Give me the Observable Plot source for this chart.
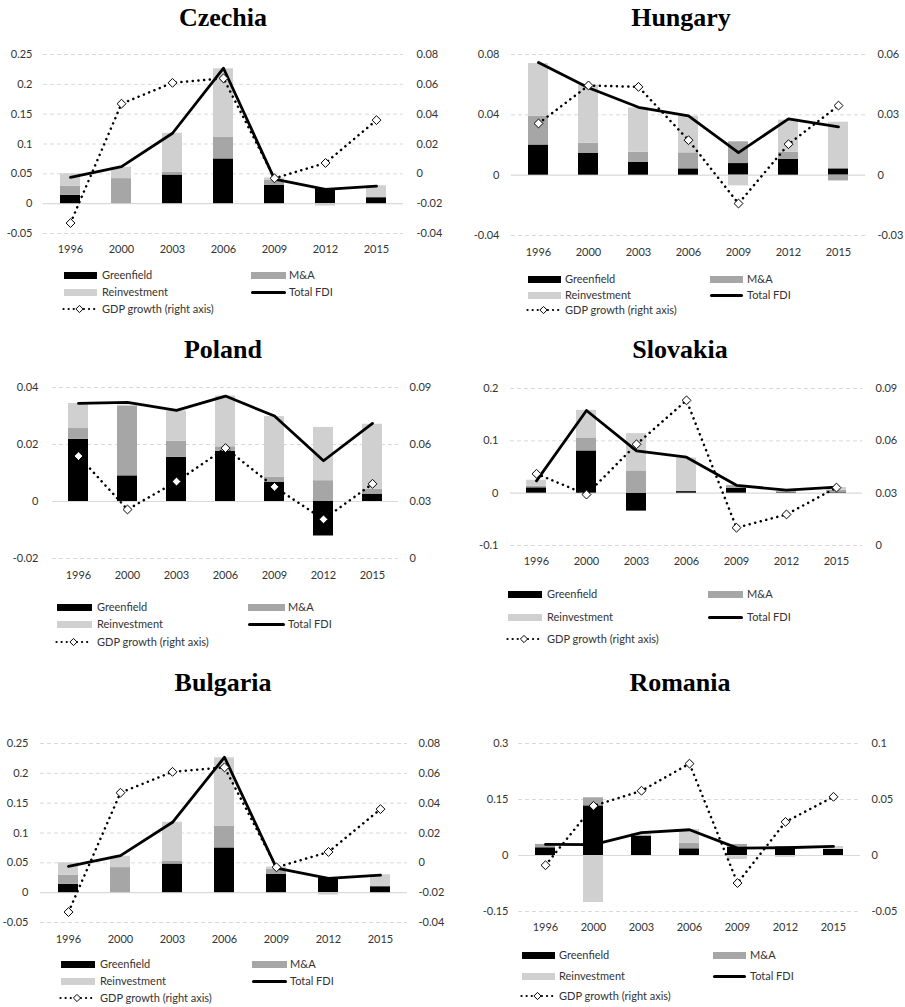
<!DOCTYPE html>
<html>
<head>
<meta charset="utf-8">
<script src="https://cdn.jsdelivr.net/npm/d3@7"></script>
<script src="https://cdn.jsdelivr.net/npm/@observablehq/plot@0.6"></script>
<style>
  html, body { margin: 0; padding: 0; background: #fff; }
  #root { position: relative; width: 905px; height: 1007px; overflow: hidden; background: #fff; font-family: Lato, "Noto Sans", sans-serif; }
  .abs { position: absolute; }
  .title { position: absolute; font-family: "Liberation Serif", "DejaVu Serif", serif; font-weight: bold; font-size: 26px; line-height: 26px; color: #000; white-space: nowrap; transform: translateX(-50%); }
  .ltxt { position: absolute; font-size: 11px; line-height: 14px; color: #333; white-space: nowrap; }
</style>
</head>
<body>
<div id="root"></div>
<script>
// ---------- data ----------
const years = ["1996", "2000", "2003", "2006", "2009", "2012", "2015"];
const seriesNames = ["Greenfield", "M&A", "Reinvestment"];
const seriesColors = ["#000000", "#a6a6a6", "#d0d0d0"];

// Czechia
const czGreenfield   = [0.014, 0.000, 0.048, 0.075, 0.031, 0.025, 0.010];
const czMA           = [0.015, 0.042, 0.005, 0.036, 0.008, 0.000, 0.000];
const czReinvestment = [0.021, 0.019, 0.065, 0.115, 0.004, -0.004, 0.020];
const czTotalFDI     = [0.044, 0.062, 0.118, 0.227, 0.041, 0.024, 0.0295];
const czGDP          = [-0.033, 0.047, 0.061, 0.064, -0.003, 0.0073, 0.036];

// Hungary
const huGreenfield   = [0.020, 0.0146, 0.0084, 0.0042, 0.0077, 0.0106, 0.0042];
const huMA           = [0.019, 0.0066, 0.0068, 0.0106, 0.0144, 0.0046, -0.0038];
const huReinvestment = [0.035, 0.0385, 0.0294, 0.0243, -0.0071, 0.0213, 0.0309];
const huTotalFDI     = [0.0747, 0.058, 0.045, 0.0393, 0.015, 0.0373, 0.032];
const huGDP          = [0.0257, 0.0446, 0.0439, 0.0174, -0.0141, 0.0154, 0.0346];

// Poland
const plGreenfield   = [0.0218, 0.009, 0.0155, 0.0176, 0.0068, -0.0121, 0.0026];
const plMA           = [0.0038, 0.0245, 0.0056, 0.0016, 0.0017, 0.0073, 0.0017];
const plReinvestment = [0.0088, 0.0003, 0.0107, 0.0178, 0.0213, 0.0187, 0.0228];
const plTotalFDI     = [0.0344, 0.0348, 0.032, 0.037, 0.030, 0.0143, 0.0274];
const plGDP          = [0.0539, 0.0258, 0.0405, 0.0581, 0.0377, 0.0206, 0.0393];

// Slovakia
const skGreenfield   = [0.0102, 0.0807, -0.0343, 0.003, 0.0095, 0.001, 0.001];
const skMA           = [0.003, 0.0248, 0.0426, 0.001, 0.005, 0.002, 0.0047];
const skReinvestment = [0.0115, 0.0528, 0.0712, 0.063, 0.0005, 0.001, 0.005];
const skTotalFDI     = [0.0235, 0.158, 0.0807, 0.0687, 0.015, 0.0057, 0.0114];
const skGDP          = [0.0411, 0.0292, 0.058, 0.0832, 0.0102, 0.0178, 0.0332];

// Bulgaria
const bgGreenfield   = [0.014, 0.000, 0.048, 0.075, 0.031, 0.025, 0.010];
const bgMA           = [0.015, 0.042, 0.005, 0.036, 0.008, 0.000, 0.000];
const bgReinvestment = [0.021, 0.019, 0.065, 0.115, 0.004, -0.004, 0.020];
const bgTotalFDI     = [0.044, 0.062, 0.118, 0.227, 0.041, 0.024, 0.0295];
const bgGDP          = [-0.033, 0.047, 0.061, 0.064, -0.003, 0.0073, 0.036];

// Romania
const roGreenfield   = [0.0207, 0.133, 0.0512, 0.018, 0.0216, 0.0225, 0.0162];
const roMA           = [0.009, 0.0216, 0.003, 0.0144, 0.008, 0.000, 0.000];
const roReinvestment = [0.000, -0.1258, 0.005, 0.037, -0.0108, -0.005, 0.008];
const roTotalFDI     = [0.0296, 0.029, 0.061, 0.069, 0.0198, 0.0207, 0.0243];
const roGDP          = [-0.0087, 0.0443, 0.0578, 0.082, -0.0246, 0.030, 0.0524];

// tick labels
const czLeftTicks  = [-0.05, 0, 0.05, 0.1, 0.15, 0.2, 0.25];
const czRightTicks = [-0.04, -0.02, 0, 0.02, 0.04, 0.06, 0.08];
const huLeftTicks  = [-0.04, 0, 0.04, 0.08];
const huRightTicks = [-0.03, 0, 0.03, 0.06];
const plLeftTicks  = [-0.02, 0, 0.02, 0.04];
const plRightTicks = [0, 0.03, 0.06, 0.09];
const skLeftTicks  = [-0.1, 0, 0.1, 0.2];
const skRightTicks = [0, 0.03, 0.06, 0.09];
const bgLeftTicks  = [-0.05, 0, 0.05, 0.1, 0.15, 0.2, 0.25];
const bgRightTicks = [-0.04, -0.02, 0, 0.02, 0.04, 0.06, 0.08];
const roLeftTicks  = [-0.15, 0, 0.15, 0.3];
const roRightTicks = [-0.05, 0, 0.05, 0.1];

// ---------- layout ----------
const panels = [
  {name: "Czechia", green: czGreenfield, mna: czMA, reinv: czReinvestment, total: czTotalFDI, gdp: czGDP,
   lTicks: czLeftTicks, rTicks: czRightTicks,
   ox: 0, W: 452, svgTop: 40, plotL: 43, plotR: 403, plotT: 54, plotB: 233, padL: 11, padR: 13, padX: 12,
   titleX: 223, titleBase: 27,
   leg: {rows: [275, 292, 309], sx0: 64, sx1: 97, tx: 102, mx0: 251, mx1: 286, mtx: 289}},
  {name: "Hungary", green: huGreenfield, mna: huMA, reinv: huReinvestment, total: huTotalFDI, gdp: huGDP,
   lTicks: huLeftTicks, rTicks: huRightTicks,
   ox: 452, W: 453, svgTop: 40, plotL: 511, plotR: 865, plotT: 54, plotB: 235, padL: 12, padR: 12, padX: 12.5,
   titleX: 681, titleBase: 27,
   leg: {rows: [279, 295, 310], sx0: 528, sx1: 561, tx: 565, mx0: 710, mx1: 743, mtx: 747}},
  {name: "Poland", green: plGreenfield, mna: plMA, reinv: plReinvestment, total: plTotalFDI, gdp: plGDP,
   lTicks: plLeftTicks, rTicks: plRightTicks,
   ox: 0, W: 452, svgTop: 370, plotL: 52, plotR: 398, plotT: 387, plotB: 558, padL: 14, padR: 11, padX: 12.5,
   titleX: 223, titleBase: 359,
   leg: {rows: [607, 624, 642], sx0: 57, sx1: 92, tx: 97, mx0: 248, mx1: 285, mtx: 288}},
  {name: "Slovakia", green: skGreenfield, mna: skMA, reinv: skReinvestment, total: skTotalFDI, gdp: skGDP,
   lTicks: skLeftTicks, rTicks: skRightTicks,
   ox: 452, W: 453, svgTop: 370, plotL: 510, plotR: 862, plotT: 388, plotB: 545, padL: 12, padR: 13, padX: 11.5,
   titleX: 680, titleBase: 359,
   leg: {rows: [594, 617, 639], sx0: 508, sx1: 542, tx: 547, mx0: 708, mx1: 743, mtx: 747}},
  {name: "Bulgaria", green: bgGreenfield, mna: bgMA, reinv: bgReinvestment, total: bgTotalFDI, gdp: bgGDP,
   lTicks: bgLeftTicks, rTicks: bgRightTicks,
   ox: 0, W: 452, svgTop: 725, plotL: 40, plotR: 407, plotT: 743, plotB: 922, padL: 12, padR: 11, padX: 12.5,
   titleX: 223, titleBase: 692,
   leg: {rows: [964, 981, 998], sx0: 61, sx1: 95, tx: 100, mx0: 252, mx1: 287, mtx: 290}},
  {name: "Romania", green: roGreenfield, mna: roMA, reinv: roReinvestment, total: roTotalFDI, gdp: roGDP,
   lTicks: roLeftTicks, rTicks: roRightTicks,
   ox: 452, W: 453, svgTop: 725, plotL: 518, plotR: 860, plotT: 743, plotB: 911, padL: 10, padR: 11, padX: 11.5,
   titleX: 680, titleBase: 692,
   leg: {rows: [955, 976, 996], sx0: 522, sx1: 555, tx: 559, mx0: 713, mx1: 746, mtx: 750}}
];

const root = document.getElementById("root");
const fmt = d => { const v = +(+d).toFixed(4); return (v === 0) ? "0" : String(v); };
const diamondSym = {
  draw(context, size) {
    const r = Math.sqrt(size) * 0.62625;
    context.moveTo(0, -r); context.lineTo(r, 0); context.lineTo(0, r); context.lineTo(-r, 0); context.closePath();
  }
};

function el(tag, cls, style, text) {
  const e = document.createElement(tag);
  if (cls) e.className = cls;
  Object.assign(e.style, style);
  if (text != null) e.textContent = text;
  root.appendChild(e);
  return e;
}

function drawPanel(p) {
  const ml = p.plotL - p.ox, mr = p.ox + p.W - p.plotR;
  const mt = p.plotT - p.svgTop, mb = 30;
  const height = mt + (p.plotB - p.plotT) + mb;
  const step = (p.plotR - p.plotL) / years.length;
  const pad = 1 - 20 / step;
  const l0 = p.lTicks[0], l1 = p.lTicks[p.lTicks.length - 1];
  const r0 = p.rTicks[0], r1 = p.rTicks[p.rTicks.length - 1];
  const toL = v => l0 + (v - r0) * (l1 - l0) / (r1 - r0);
  const toR = v => r0 + (v - l0) * (r1 - r0) / (l1 - l0);

  const table = years.flatMap((yr, i) => [
    {year: yr, series: seriesNames[0], value: p.green[i]},
    {year: yr, series: seriesNames[1], value: p.mna[i]},
    {year: yr, series: seriesNames[2], value: p.reinv[i]}
  ]);
  const total = years.map((yr, i) => ({year: yr, value: p.total[i]}));
  const gdp = years.map((yr, i) => ({year: yr, value: p.gdp[i]}));

  const chart = Plot.plot({
    width: p.W, height,
    marginLeft: ml, marginRight: mr, marginTop: mt, marginBottom: mb,
    style: {fontFamily: "Lato, 'Noto Sans', sans-serif", fontSize: "11px", color: "#333", background: "transparent", overflow: "visible"},
    x: {domain: years, paddingInner: pad, paddingOuter: pad / 2, axis: null, label: null},
    y: {domain: [l0, l1], axis: null, label: null},
    color: {domain: seriesNames, range: seriesColors},
    marks: [
      Plot.ruleY(p.lTicks.filter(t => t !== 0), {stroke: "#d9d9d9", strokeWidth: 1, strokeDasharray: "4,3"}),
      Plot.ruleY([0], {stroke: "#d9d9d9", strokeWidth: 1.2}),
      Plot.barY(table, Plot.stackY({x: "year", y: "value", fill: "series"})),
      Plot.axisX({tickSize: 0, tickPadding: p.padX, label: null}),
      Plot.axisY(p.lTicks, {anchor: "left", tickSize: 0, tickPadding: p.padL, tickFormat: fmt, label: null}),
      Plot.axisY(p.rTicks.map(toL), {anchor: "right", tickSize: 0, tickPadding: p.padR, tickFormat: d => fmt(toR(d)), label: null}),
      Plot.lineY(total, {x: "year", y: "value", stroke: "#000", strokeWidth: 2.8}),
      Plot.lineY(gdp, {x: "year", y: d => toL(d.value), stroke: "#000", strokeWidth: 2.5, strokeDasharray: "0.1,5.6", strokeLinecap: "round"}),
      Plot.dot(gdp, {x: "year", y: d => toL(d.value), symbol: diamondSym, r: 4, fill: "#fff", stroke: "#000", strokeWidth: 1})
    ]
  });
  const holder = el("div", "abs", {left: p.ox + "px", top: p.svgTop + "px"});
  holder.appendChild(chart);

  // title
  el("div", "title", {left: p.titleX + "px", top: (p.titleBase - 22) + "px"}, p.name);

  // legend
  const L = p.leg;
  const [y1, y2, y3] = L.rows;
  el("div", "abs", {left: L.sx0 + "px", top: (y1 - 3.5) + "px", width: (L.sx1 - L.sx0) + "px", height: "7px", background: seriesColors[0]});
  el("div", "ltxt", {left: L.tx + "px", top: (y1 - 7.5) + "px"}, "Greenfield");
  el("div", "abs", {left: L.mx0 + "px", top: (y1 - 3.5) + "px", width: (L.mx1 - L.mx0) + "px", height: "7px", background: seriesColors[1]});
  el("div", "ltxt", {left: L.mtx + "px", top: (y1 - 7.5) + "px"}, "M&A");
  el("div", "abs", {left: L.sx0 + "px", top: (y2 - 3.5) + "px", width: (L.sx1 - L.sx0) + "px", height: "7px", background: seriesColors[2]});
  el("div", "ltxt", {left: L.tx + "px", top: (y2 - 7.5) + "px"}, "Reinvestment");
  el("div", "abs", {left: L.mx0 + "px", top: (y2 - 1.5) + "px", width: (L.mx1 - L.mx0) + "px", height: "3px", background: "#000", borderRadius: "1.5px"});
  el("div", "ltxt", {left: L.mtx + "px", top: (y2 - 7.5) + "px"}, "Total FDI");
  const w = L.sx1 - L.sx0 + 2;
  const svgNS = "http://www.w3.org/2000/svg";
  const s = document.createElementNS(svgNS, "svg");
  s.setAttribute("width", w); s.setAttribute("height", 12);
  Object.assign(s.style, {position: "absolute", left: (L.sx0 - 2) + "px", top: (y3 - 6) + "px", overflow: "visible"});
  const ln = document.createElementNS(svgNS, "line");
  ln.setAttribute("x1", 1.5); ln.setAttribute("x2", w - 1); ln.setAttribute("y1", 6); ln.setAttribute("y2", 6);
  ln.setAttribute("stroke", "#000"); ln.setAttribute("stroke-width", 2.2);
  ln.setAttribute("stroke-dasharray", "0.1,5"); ln.setAttribute("stroke-linecap", "round");
  s.appendChild(ln);
  const c = w / 2, r = 3.6;
  const dm = document.createElementNS(svgNS, "path");
  dm.setAttribute("d", `M${c},${6 - r}L${c + r},6L${c},${6 + r}L${c - r},6Z`);
  dm.setAttribute("fill", "#fff"); dm.setAttribute("stroke", "#000"); dm.setAttribute("stroke-width", 1);
  s.appendChild(dm);
  root.appendChild(s);
  el("div", "ltxt", {left: L.tx + "px", top: (y3 - 7.5) + "px"}, "GDP growth (right axis)");
}

panels.forEach(drawPanel);
</script>
</body>
</html>
